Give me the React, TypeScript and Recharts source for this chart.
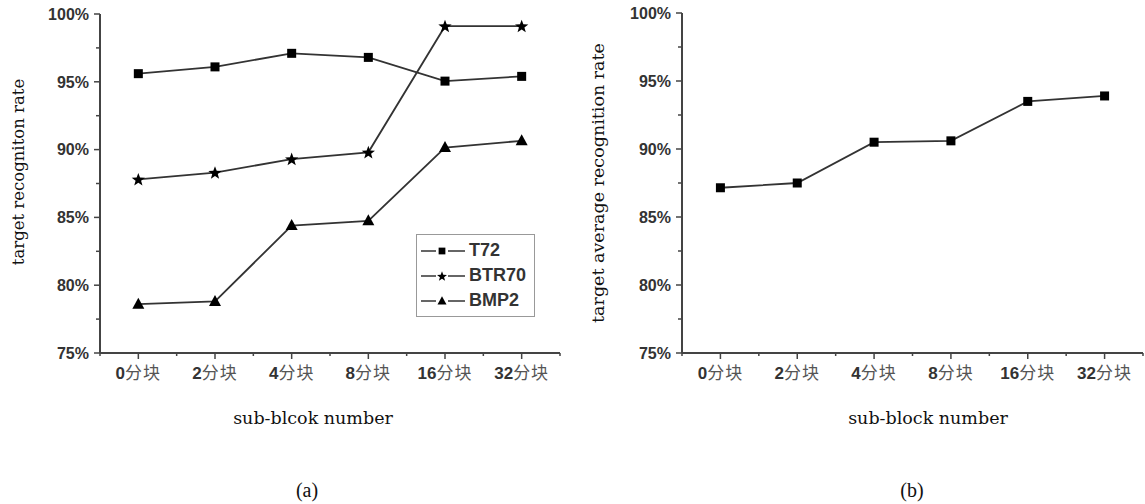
import React from "react";
import { LineChart, Line, XAxis, YAxis, Legend } from "recharts";

const categories = ["0分块", "2分块", "4分块", "8分块", "16分块", "32分块"];
const t72 = [95.6, 96.1, 97.1, 96.8, 95.05, 95.4];
const btr70 = [87.8, 88.3, 89.3, 89.8, 99.1, 99.1];
const bmp2 = [78.6, 78.8, 84.4, 84.75, 90.15, 90.65];
const average = [87.15, 87.5, 90.5, 90.6, 93.5, 93.9];
const seriesNames = ["T72", "BTR70", "BMP2"];

const yTicks = [75, 77.5, 80, 82.5, 85, 87.5, 90, 92.5, 95, 97.5, 100];
const xTicks = [-0.5, 0, 0.5, 1, 1.5, 2, 2.5, 3, 3.5, 4, 4.5, 5, 5.5];

const AXIS = "#444";
const INK = "#333";
const LABEL_FONT = "'Liberation Sans', Arial, 'Noto Sans CJK SC', sans-serif";
const TITLE_FONT = "'DejaVu Serif', serif";

const dataA = categories.map((c, i) => ({ idx: i, T72: t72[i], BTR70: btr70[i], BMP2: bmp2[i] }));
const dataB = categories.map((c, i) => ({ idx: i, avg: average[i] }));

type Shape = "square" | "star" | "triangle";

const starPath = (cx: number, cy: number, R: number, r: number) => {
  let d = "";
  for (let i = 0; i < 10; i++) {
    const a = -Math.PI / 2 + (i * Math.PI) / 5;
    const rad = i % 2 ? r : R;
    d += (i ? "L" : "M") + (cx + rad * Math.cos(a)).toFixed(2) + "," + (cy + rad * Math.sin(a)).toFixed(2);
  }
  return d + "Z";
};

const Marker = ({ cx, cy, shape, s = 1 }: { cx: number; cy: number; shape: Shape; s?: number }) => {
  if (shape === "square") return <rect x={cx - 4.5 * s} y={cy - 4.5 * s} width={9 * s} height={9 * s} fill="#000" />;
  if (shape === "star") return <path d={starPath(cx, cy + 0.5, 7 * s, 2.9 * s)} fill="#000" />;
  return <path d={`M${cx},${cy - 6.5 * s}L${cx + 6 * s},${cy + 4.5 * s}L${cx - 6 * s},${cy + 4.5 * s}Z`} fill="#000" />;
};

const XTick = (props: any) => {
  const { x, y, payload } = props;
  const v = payload.value;
  const major = Number.isInteger(v);
  const label: string = major ? categories[v] : "";
  const m = label.match(/^(\d+)(.*)$/);
  return (
    <g>
      <line x1={x} x2={x} y1={y} y2={y + (major ? 6 : 3)} stroke={AXIS} strokeWidth={1.5} />
      {major && m && (
        <text x={x} y={y + 26} textAnchor="middle" fill={INK} fontSize={17} fontFamily={LABEL_FONT}>
          <tspan fontWeight="bold">{m[1]}</tspan>
          <tspan fill="#555" letterSpacing={1}>{m[2]}</tspan>
        </text>
      )}
    </g>
  );
};

const YTick = (props: any) => {
  const { x, y, payload } = props;
  const v = payload.value;
  const major = v % 5 === 0;
  return (
    <g>
      <line x1={x} x2={x - (major ? 6 : 4)} y1={y} y2={y} stroke={AXIS} strokeWidth={1.5} />
      {major && (
        <text x={x - 11} y={y} dy="0.36em" textAnchor="end" fill={INK} fontSize={16} fontWeight="bold" fontFamily={LABEL_FONT}>
          {v + "%"}
        </text>
      )}
    </g>
  );
};

const shapeOf: Record<string, Shape> = { T72: "square", BTR70: "star", BMP2: "triangle", avg: "square" };

const LegendBox = (props: any) => {
  const items = [...(props.payload || [])].sort(
    (a: any, b: any) => seriesNames.indexOf(a.dataKey) - seriesNames.indexOf(b.dataKey)
  );
  return (
    <div style={{ border: "1px solid #999", width: 117, padding: "3px 0", background: "#fff" }}>
      {items.map((e: any) => (
        <div key={e.value} style={{ display: "flex", alignItems: "center", height: 25 }}>
          <svg width={52} height={20}>
            <line x1={4} x2={48} y1={10} y2={10} stroke={INK} strokeWidth={1.6} />
            <rect x={19} y={4} width={12} height={12} fill="#fff" />
            <Marker cx={25} cy={10} shape={shapeOf[e.dataKey]} s={0.75} />
          </svg>
          <span style={{ fontFamily: LABEL_FONT, fontWeight: "bold", fontSize: 18, color: INK }}>{e.value}</span>
        </div>
      ))}
    </div>
  );
};

const dotFor = (shape: Shape) => (p: any) => <Marker key={`d${p.index}`} cx={p.cx} cy={p.cy} shape={shape} />;

const axes = [
  <XAxis key="x" dataKey="idx" type="number" domain={[-0.5, 5.5]} ticks={xTicks} interval={0} height={30}
    axisLine={{ stroke: AXIS, strokeWidth: 2 }} tickLine={false} tickSize={0} tickMargin={0} tick={<XTick />} />,
  <YAxis key="y" type="number" domain={[75, 100]} ticks={yTicks} interval={0} width={50}
    axisLine={{ stroke: AXIS, strokeWidth: 2 }} tickLine={false} tickSize={0} tickMargin={0} tick={<YTick />} />,
];

const title = (text: string, x: number, y: number, size: number, rotate = false, font = TITLE_FONT) => (
  <div style={{
    position: "absolute", left: x, top: y, whiteSpace: "nowrap", fontFamily: font, fontSize: size, color: "#111",
    transform: `translate(-50%,-50%)${rotate ? " rotate(-90deg)" : ""}`,
  }}>{text}</div>
);

export default function App() {
  return (
    <div style={{ position: "absolute", left: 0, top: 0, width: 1145, height: 504, background: "#fff", overflow: "hidden" }}>
      <div style={{ position: "absolute", left: 0, top: 0 }}>
        <LineChart width={570} height={400} data={dataA} margin={{ top: 14, right: 10, bottom: 17, left: 50 }}>
          {axes}
          <Legend content={<LegendBox />} layout="vertical" verticalAlign="middle" align="center"
            wrapperStyle={{ left: 416, top: 234, width: 119 }} />
          <Line dataKey="T72" name="T72" stroke={INK} strokeWidth={1.8} dot={dotFor("square")} isAnimationActive={false} />
          <Line dataKey="BTR70" name="BTR70" stroke={INK} strokeWidth={1.8} dot={dotFor("star")} isAnimationActive={false} />
          <Line dataKey="BMP2" name="BMP2" stroke={INK} strokeWidth={1.8} dot={dotFor("triangle")} isAnimationActive={false} />
        </LineChart>
      </div>
      <div style={{ position: "absolute", left: 570, top: 0 }}>
        <LineChart width={575} height={400} data={dataB} margin={{ top: 13, right: 2, bottom: 17, left: 62 }}>
          {axes}
          <Line dataKey="avg" stroke={INK} strokeWidth={1.8} dot={dotFor("square")} isAnimationActive={false} />
        </LineChart>
      </div>
      {title("target recogniton rate", 18, 172, 16.5, true)}
      {title("target average recognition rate", 598, 183, 17.5, true)}
      {title("sub-blcok number", 313, 418, 17.5)}
      {title("sub-block number", 928, 418, 17.5)}
      {title("(a)", 307, 490, 20, false, "'Liberation Serif', serif")}
      {title("(b)", 912, 490, 20, false, "'Liberation Serif', serif")}
    </div>
  );
}
